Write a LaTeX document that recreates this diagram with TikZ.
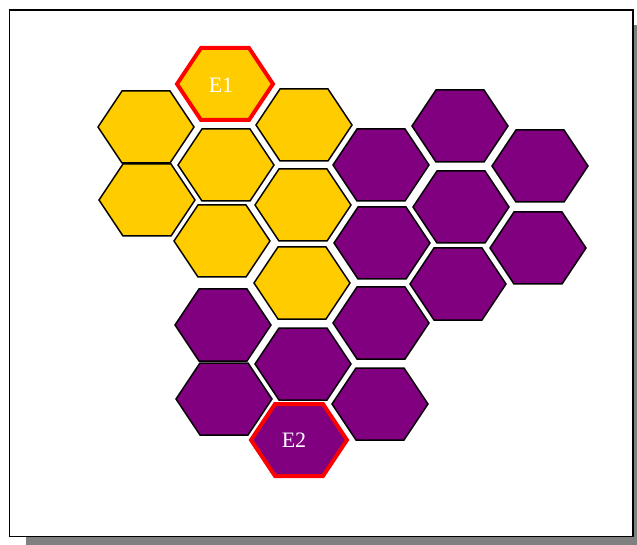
\documentclass[tikz,border=0pt]{standalone}
\usepackage{fontspec}
\setmainfont{Liberation Serif}
\definecolor{hexyellow}{RGB}{255,204,0}
\definecolor{hexpurple}{RGB}{128,0,128}
\definecolor{shadowgray}{RGB}{128,128,128}
\begin{document}
\begin{tikzpicture}[x=1pt,y=-1pt,
  hexpath/.style={line join=miter},
  yhex/.style={fill=hexyellow,draw=black,line width=1.5pt},
  phex/.style={fill=hexpurple,draw=black,line width=1.5pt},
  redhex/.style={draw=red,line width=4pt},
  hexlabel/.style={text=white,font=\fontsize{22}{26}\selectfont,inner sep=0pt},
  frame/.style={draw=black,line width=1.3pt,fill=white},
  shadow/.style={fill=shadowgray}]
\useasboundingbox (0,0) rectangle (637,545);
\begin{scope}
\clip (0,0) rectangle (637,545);
\fill[shadow] (26,25) rectangle (650,552);
\end{scope}
\draw[frame] (9.5,10) rectangle (633,536.5);
\newcommand{\hexshape}[2]{%
  \draw[#2,hexpath,shift={(#1)}] (-48,0) -- (-24,-36) -- (24,-36) -- (48,0) -- (24,36) -- (-24,36) -- cycle;}
% yellow cells
\foreach \n/\x/\y in {ya/146/127, yb/304/125, yc/147/200, yd/226/165, ye/303/205, yf/222/241, yg/302/283, eone/225/84}{
  \coordinate (\n) at (\x,\y);
  \hexshape{\n}{yhex}
}
% purple cells
\foreach \n/\x/\y in {pa/381/165, pb/460/126, pc/540/166, pd/382/243, pe/461/207, pf/538/248, pg/458/284, ph/381/323, pi/223/325, pj/303/364, pk/224/399, pl/380/404, etwo/299/440}{
  \coordinate (\n) at (\x,\y);
  \hexshape{\n}{phex}
}
\hexshape{eone}{redhex}
\hexshape{etwo}{redhex}
\node[hexlabel] (lone) at ([xshift=-4pt,yshift=-1pt]eone) {E1};
\node[hexlabel] (ltwo) at ([xshift=-5pt]etwo) {E2};
\end{tikzpicture}
\end{document}
